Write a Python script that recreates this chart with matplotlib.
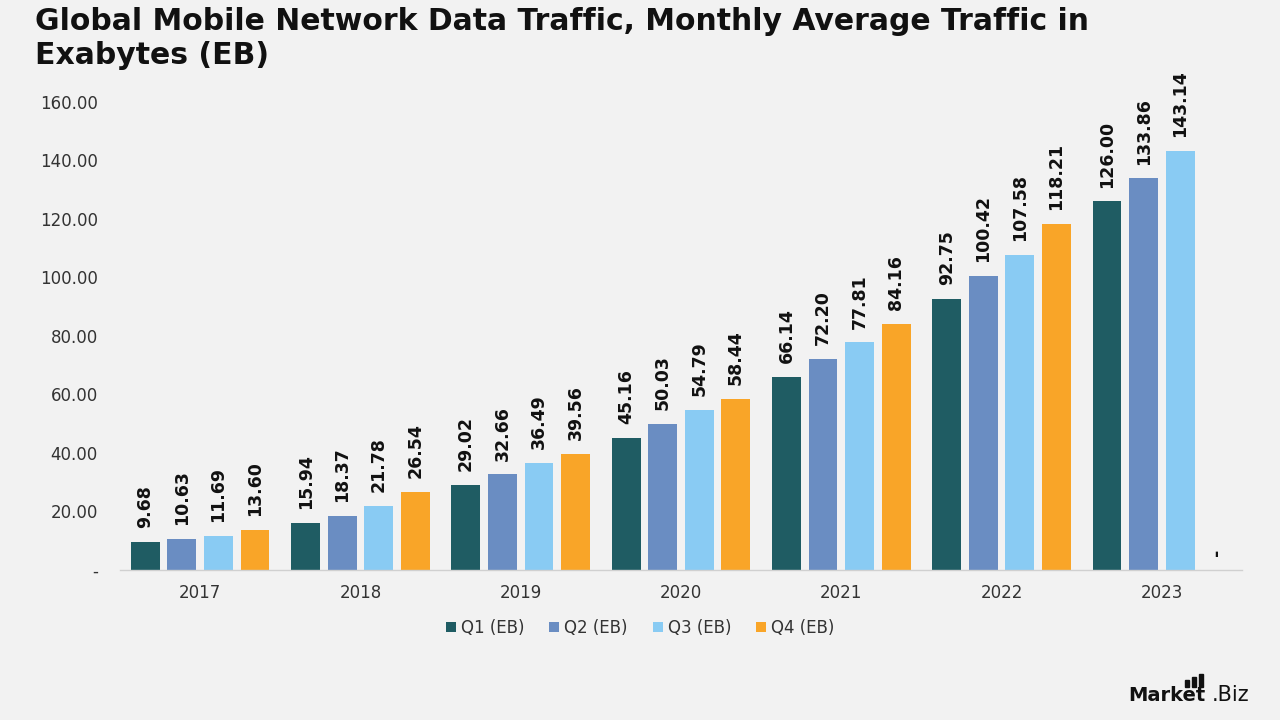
import matplotlib
matplotlib.use("Agg")
import matplotlib.pyplot as plt
import numpy as np
from matplotlib.patches import Rectangle

years = ["2017", "2018", "2019", "2020", "2021", "2022", "2023"]
series_names = ["Q1 (EB)", "Q2 (EB)", "Q3 (EB)", "Q4 (EB)"]
q1 = [9.68, 15.94, 29.02, 45.16, 66.14, 92.75, 126.00]
q2 = [10.63, 18.37, 32.66, 50.03, 72.20, 100.42, 133.86]
q3 = [11.69, 21.78, 36.49, 54.79, 77.81, 107.58, 143.14]
q4 = [13.60, 26.54, 39.56, 58.44, 84.16, 118.21, 0.0]
colors = ["#1f5c63", "#6a8dc2", "#89cbf3", "#f9a528"]
yticks = [0, 20, 40, 60, 80, 100, 120, 140, 160]

plt.rcParams['font.family'] = ['DejaVu Sans']
bg = "#f2f2f2"
fig = plt.figure(figsize=(12.8, 7.2), dpi=100, facecolor=bg)
ax = fig.add_axes([120/1280, 1-570/720, 1122/1280, (570-102)/720])
ax.set_facecolor(bg)

x = np.arange(len(years))
width = 0.18
step = 0.228
for i, (vals, name, c) in enumerate(zip([q1, q2, q3, q4], series_names, colors)):
    pos = x + (i - 1.5) * step
    ax.bar(pos, vals, width=width, color=c, label=name)
    for px, v in zip(pos, vals):
        lab = f"{v:.2f}" if v > 0 else "-"
        ax.annotate(lab, (px, v), xytext=(0, 10), textcoords="offset points",
                    rotation=90, ha="center", va="bottom",
                    fontsize=12.5, fontweight="bold", color="#111111",
                    annotation_clip=False)

ax.set_xlim(-0.5, len(years) - 0.5)
ax.set_ylim(0, 160)
ax.set_xticks(x)
ax.set_xticklabels(years, fontsize=12, color="#333333")
ax.set_yticks(yticks)
ax.set_yticklabels([f"{t:.2f}" if t > 0 else "-" for t in yticks], fontsize=12, color="#333333")
ax.tick_params(axis="both", length=0)
ax.tick_params(axis="y", pad=16)
ax.tick_params(axis="x", pad=10)
for s in ["top", "right", "left"]:
    ax.spines[s].set_visible(False)
ax.spines["bottom"].set_color("#d0d0d0")
ax.spines["bottom"].set_linewidth(1)

fig.legend(loc="center", bbox_to_anchor=(640/1280, 1-628/720), ncol=4,
           frameon=False, fontsize=12, handlelength=0.6, handleheight=0.6,
           handletextpad=0.3, columnspacing=1.5, labelcolor="#333333")

fig.text(35/1280, 1-7/720, "Global Mobile Network Data Traffic, Monthly Average Traffic in\nExabytes (EB)",
         ha="left", va="top", fontsize=21.5, fontweight="bold", color="#111111",
         linespacing=1.2)

# logo
fig.text(1128/1280, 1-701/720, "Market", fontsize=14, fontweight="bold", color="#111111",
         ha="left", va="baseline")
fig.text(1212/1280, 1-701/720, ".Biz", fontsize=15, color="#111111", ha="left", va="baseline")
for bx, bh in [(1185, 7), (1192, 10), (1199, 13)]:
    fig.patches.append(Rectangle((bx/1280, 1-687/720), 4/1280, bh/720,
                                 transform=fig.transFigure, color="#111111"))

fig.savefig("out.png", dpi=100, facecolor=bg)
